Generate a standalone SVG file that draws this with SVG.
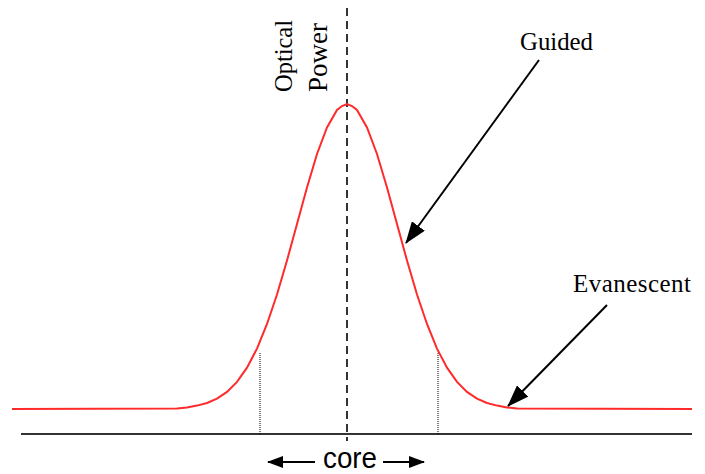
<svg xmlns="http://www.w3.org/2000/svg" width="705" height="474" viewBox="0 0 705 474">
<style>
.serif{font-family:"Liberation Serif","Times New Roman",serif;fill:#000}
.sans{font-family:"Liberation Sans",Arial,sans-serif;fill:#000}
.curve{fill:none;stroke:#ff2a2a;stroke-width:2}
.lead{stroke:#000;stroke-width:2;fill:none}
</style>
<defs>
<marker id="big" viewBox="0 0 22 16" refX="21" refY="8" markerWidth="22" markerHeight="16" orient="auto" markerUnits="userSpaceOnUse">
<path d="M0,0 L22,8 L0,16 Z" fill="#000"/>
</marker>
<marker id="small" viewBox="0 0 16 12" refX="15" refY="6" markerWidth="16" markerHeight="12" orient="auto" markerUnits="userSpaceOnUse">
<path d="M0,0 L16,6 L0,12 Z" fill="#000"/>
</marker>
</defs>
<rect width="705" height="474" fill="#fff"/>
<g id="axis">
<line x1="21" y1="434" x2="692" y2="434" stroke="#333" stroke-width="2"/>
<line x1="347" y1="8" x2="347" y2="441" stroke="#333" stroke-width="2" stroke-dasharray="8,5"/>
<line x1="260" y1="353" x2="260" y2="434" stroke="#000" stroke-width="1" stroke-dasharray="1,1"/>
<line x1="438" y1="353" x2="438" y2="434" stroke="#000" stroke-width="1" stroke-dasharray="1,1"/>
</g>
<g id="mode-profile">
<path class="curve" d="M12,409 L177,408.5 L187,407.4 L197,405.6 L207,403 L217,398.6 L227,391.9 L237,381.9 L247,367.7 L257,348.6 L267,324 L277,294.5 L287,260.5 L297,224 L307,187.5 L317,154 L327,127.5 L337,110 L342,106 L347,104 L352,106 L357,110 L367,127.5 L377,154 L387,187.5 L397,224 L407,260.5 L417,294.5 L427,324 L437,348.6 L447,367.7 L457,381.9 L467,391.9 L477,398.6 L487,403 L497,405.6 L507,407.4 L517,408.5 L692,409"/>
</g>
<g id="axis-label">
<text class="serif" font-size="26" transform="translate(292,92) rotate(-90)" textLength="72" lengthAdjust="spacingAndGlyphs">Optical</text>
<text class="serif" font-size="28" transform="translate(327,92) rotate(-90)" textLength="69" lengthAdjust="spacingAndGlyphs">Power</text>
</g>
<g id="guided">
<text class="serif" x="520" y="50" font-size="25" textLength="73" lengthAdjust="spacingAndGlyphs">Guided</text>
</g>
<g id="evanescent">
<text class="serif" x="573" y="292" font-size="25" textLength="118" lengthAdjust="spacing">Evanescent</text>
</g>
<g id="core">
<text class="sans" x="323" y="468" font-size="29" textLength="54" lengthAdjust="spacingAndGlyphs">core</text>
</g>
<g id="connectors">
<line class="lead" x1="539" y1="60" x2="406" y2="243" marker-end="url(#big)"/>
<line class="lead" x1="607" y1="305" x2="508" y2="406" marker-end="url(#big)"/>
<line class="lead" x1="315" y1="462" x2="268" y2="462" stroke-width="2.5" marker-end="url(#small)"/>
<line class="lead" x1="383" y1="462" x2="424" y2="462" stroke-width="2.5" marker-end="url(#small)"/>
</g>
</svg>
